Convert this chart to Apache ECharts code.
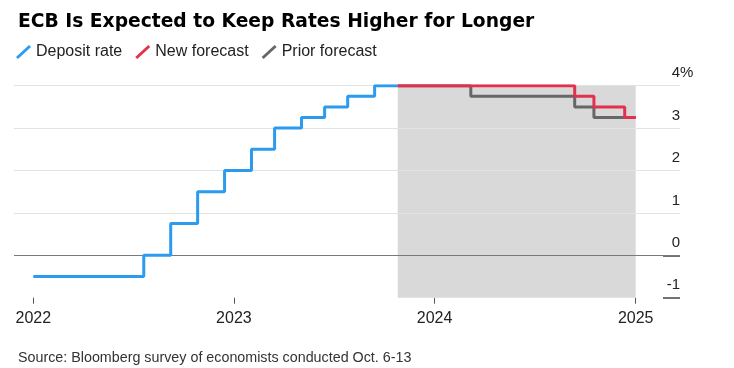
<!DOCTYPE html>
<html>
<head>
<meta charset="utf-8">
<script src="https://cdn.jsdelivr.net/npm/echarts@6/dist/echarts.min.js"></script>
<style>
html,body{margin:0;padding:0;background:#fff;}
#chart{width:734px;height:368px;}
</style>
</head>
<body>
<div id="chart"></div>
<script>
// ---- data ----
const depositDates = ['2022-01-01','2022-07-21','2022-09-08','2022-10-27','2022-12-15','2023-02-02','2023-03-16','2023-05-04','2023-06-15','2023-07-27','2023-09-14','2023-10-26'];
const depositRates = [-0.5, 0, 0.75, 1.5, 2.0, 2.5, 3.0, 3.25, 3.5, 3.75, 4.0, 4.0];
const newDates = ['2023-10-26','2024-09-12','2024-10-17','2024-12-12','2025-01-01'];
const newRates = [4.0, 3.75, 3.5, 3.25, 3.25];
const priorDates = ['2023-10-26','2024-03-07','2024-09-12','2024-10-17','2025-01-01'];
const priorRates = [4.0, 3.75, 3.5, 3.25, 3.25];
const yearTicks = ['2022-01-01','2023-01-01','2024-01-01','2025-01-01'];
const shadeRange = ['2023-10-26','2025-01-01'];
const yMin = -1, yMax = 4, yStep = 1;
const gridValues = [0, 1, 2, 3, 4];
const yMarkTicks = [-1, 0];
const seriesNames = ['Deposit rate','New forecast','Prior forecast'];
const titleText = 'ECB Is Expected to Keep Rates Higher for Longer';
const sourceText = 'Source: Bloomberg survey of economists conducted Oct. 6-13';

// ---- helpers ----
function ts(s){ const p = s.split('-').map(Number); return Date.UTC(p[0], p[1]-1, p[2]); }
function pairs(d, v){ return d.map((x,i)=>[ts(x), v[i]]); }

// layout: plot spans px 14..680, with 2022 tick at 33.3 and 2025 tick at 635.7
const gridLeft = 14, gridRight = 680;
const t0 = ts(yearTicks[0]), t3 = ts(yearTicks[yearTicks.length-1]);
const pxPerMs = (635.7 - 33.3) / (t3 - t0);
const xMin = t0 - (33.3 - gridLeft) / pxPerMs;
const xMax = t3 + (gridRight - 635.7) / pxPerMs;

const BLUE = '#2b9bef', RED = '#e2304d', GRAY = '#676767', SHADE = '#d9d9d9';
const GRID_LIGHT = '#e3e3e3', GRID_ZERO = '#7a7a7a';
const slash = 'path://M0,12 L13,0 L15,2 L2,14 Z';
const PCT_W = 13.3;

const chart = echarts.init(document.getElementById('chart'), null, {renderer:'canvas'});
chart.setOption({
  animation: false,
  backgroundColor: '#fff',
  title: [
    { text: titleText, left: 13, top: 8,
      textStyle: { fontFamily: 'DejaVu Sans', fontWeight: 'bold', fontSize: 18.7, color: '#000' } },
    { text: sourceText, left: 13, top: 346,
      textStyle: { fontFamily: 'Liberation Sans', fontWeight: 'normal', fontSize: 14.3, color: '#333' } }
  ],
  legend: {
    left: 11, top: 39,
    itemWidth: 15, itemHeight: 14, itemGap: 13,
    textStyle: { fontFamily: 'Liberation Sans', fontSize: 16, color: '#222' },
    data: seriesNames.map(n => ({ name: n, icon: slash }))
  },
  grid: { left: gridLeft, right: 734 - gridRight, top: 85.7, bottom: 368 - 297.7, containLabel: false },
  xAxis: {
    type: 'value', min: xMin, max: xMax,
    axisLine: { show: false, onZero: false },
    splitLine: { show: false },
    axisTick: { show: true, length: 6, customValues: yearTicks.map(ts), lineStyle: { color: '#555', width: 1 } },
    axisLabel: { customValues: yearTicks.map(ts), margin: 13, fontFamily: 'Liberation Sans', fontSize: 16, color: '#222',
      formatter: v => String(new Date(v).getUTCFullYear()) }
  },
  yAxis: [{
    type: 'value', position: 'right', min: yMin, max: yMax, interval: yStep,
    axisLine: { show: false },
    axisTick: { show: false },
    splitLine: { show: false },
    axisLabel: {
      inside: true, margin: -PCT_W, verticalAlign: 'bottom', padding: [0, 0, 5, 0],
      fontFamily: 'Liberation Sans', fontSize: 15, color: '#222',
      formatter: v => v === yMax ? '{n|' + v + '}{p|%}' : '{n|' + v + '}{s| }',
      rich: {
        n: { fontFamily: 'Liberation Sans', fontSize: 15, color: '#222' },
        p: { fontFamily: 'Liberation Sans', fontSize: 15, color: '#222', width: PCT_W, align: 'left' },
        s: { fontFamily: 'Liberation Sans', fontSize: 15, color: '#222', width: PCT_W, align: 'left' }
      }
    }
  }, {
    type: 'value', position: 'right', min: yMin, max: yMax, interval: yStep,
    axisLine: { show: false }, splitLine: { show: false }, axisLabel: { show: false },
    axisTick: { show: true, inside: true, length: 17, customValues: yMarkTicks, lineStyle: { color: '#444', width: 1.5 } }
  }],
  series: [
    { name: 'shade', type: 'custom', z: 1, silent: true,
      data: [[ts(shadeRange[0]), ts(shadeRange[1])]],
      renderItem: function (params, api) {
        const p0 = api.coord([api.value(0), yMax]);
        const p1 = api.coord([api.value(1), yMin]);
        return { type: 'rect',
          shape: { x: p0[0], y: p0[1], width: p1[0] - p0[0], height: p1[1] - p0[1] },
          style: { fill: SHADE } };
      },
      markLine: { silent: true, z: 5, symbol: ['none', 'none'], label: { show: false },
        data: gridValues.map(v => ({ yAxis: v, lineStyle: { type: 'solid', width: 1, color: v === 0 ? GRID_ZERO : GRID_LIGHT } })) } },
    { name: seriesNames[0], type: 'line', step: 'end', showSymbol: false, symbol: 'none', color: BLUE,
      lineStyle: { width: 3, color: BLUE }, data: pairs(depositDates, depositRates), z: 10 },
    { name: seriesNames[2], type: 'line', step: 'end', showSymbol: false, symbol: 'none', color: GRAY,
      lineStyle: { width: 3, color: GRAY }, data: pairs(priorDates, priorRates), z: 10 },
    { name: seriesNames[1], type: 'line', step: 'end', showSymbol: false, symbol: 'none', color: RED,
      lineStyle: { width: 3, color: RED }, data: pairs(newDates, newRates), z: 11 }
  ]
});
</script>
</body>
</html>
